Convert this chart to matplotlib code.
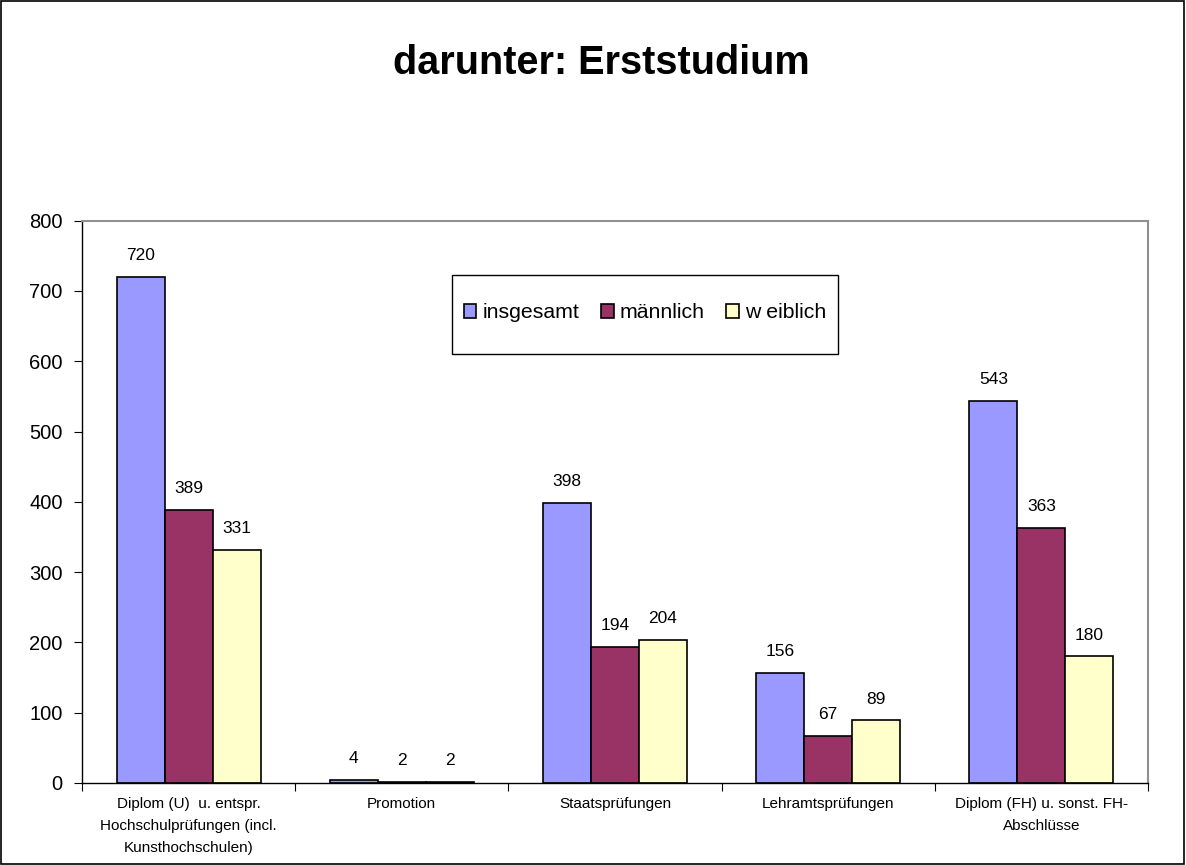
import matplotlib
matplotlib.use("Agg")
import matplotlib.pyplot as plt
import numpy as np
from matplotlib.patches import Rectangle

categories = ["Diplom (U)  u. entspr.\nHochschulprüfungen (incl.\nKunsthochschulen)",
              "Promotion", "Staatsprüfungen", "Lehramtsprüfungen",
              "Diplom (FH) u. sonst. FH-\nAbschlüsse"]
series_names = ["insgesamt", "männlich", "w eiblich"]
insgesamt = [720, 4, 398, 156, 543]
maennlich = [389, 2, 194, 67, 363]
weiblich = [331, 2, 204, 89, 180]
yticks = [0, 100, 200, 300, 400, 500, 600, 700, 800]
title = "darunter: Erststudium"

colors = ["#9999FF", "#993366", "#FFFFCC"]
FONT = "Liberation Sans"

fig = plt.figure(figsize=(11.86, 8.65), dpi=100)
fig.patches.append(Rectangle((0.0005, 0.0008), 0.998, 0.998, transform=fig.transFigure,
                             fill=False, edgecolor="black", linewidth=1.2))
ax = fig.add_axes([0.06914, 0.0948, 0.8988, 0.6501])

x = np.arange(len(categories))
w = 0.225
for i, (vals, name, c) in enumerate(zip([insgesamt, maennlich, weiblich], series_names, colors)):
    pos = x + (i - 1) * w
    ax.bar(pos, vals, width=w, color=c, edgecolor="black", linewidth=1.2, label=name)
    for p, v in zip(pos, vals):
        ax.annotate(str(v), (p, v), xytext=(0, 10), textcoords="offset points",
                    ha="center", va="bottom", fontsize=12.5, family=FONT)

ax.set_xlim(-0.5, len(categories) - 0.5)
ax.set_ylim(0, 800)
ax.set_yticks(yticks)
ax.set_yticklabels([str(t) for t in yticks], fontsize=14.5, family=FONT)
ax.set_xticks(np.arange(len(categories) + 1) - 0.5)
ax.set_xticklabels([])
ax.set_xticks(x, minor=True)
ax.set_xticklabels(categories, minor=True, fontsize=11, family=FONT, linespacing=1.75)
ax.tick_params(axis="x", which="minor", length=0, pad=10)
ax.tick_params(axis="x", which="major", length=6, direction="out", color="black")
ax.tick_params(axis="y", length=6, direction="out", color="black", pad=8)
for s in ax.spines.values():
    s.set_color("#909090")
    s.set_linewidth(1.5)
ax.spines["left"].set_color("black")
ax.spines["left"].set_linewidth(1.0)
ax.spines["bottom"].set_color("black")
ax.spines["bottom"].set_linewidth(1.0)

fig.text(601 / 1186, 1 - 74 / 865, title, ha="center", va="baseline", fontsize=28.5,
         fontweight="bold", family=FONT)

# legend box
fig.patches.append(Rectangle((452 / 1186, 1 - 354 / 865), (838 - 452) / 1186, (354 - 275) / 865,
                             transform=fig.transFigure, fill=True, facecolor="white",
                             edgecolor="black", linewidth=1.0, zorder=5))
leg = fig.legend(*ax.get_legend_handles_labels(), loc="center",
                 bbox_to_anchor=(645 / 1186, 1 - 313 / 865),
                 ncol=3, frameon=False,
                 handlelength=0.6, handleheight=0.65,
                 handletextpad=0.3, columnspacing=1.0, borderpad=0.2,
                 prop={"family": FONT, "size": 15.3})
leg.set_zorder(6)

fig.savefig("out.png", dpi=100)
